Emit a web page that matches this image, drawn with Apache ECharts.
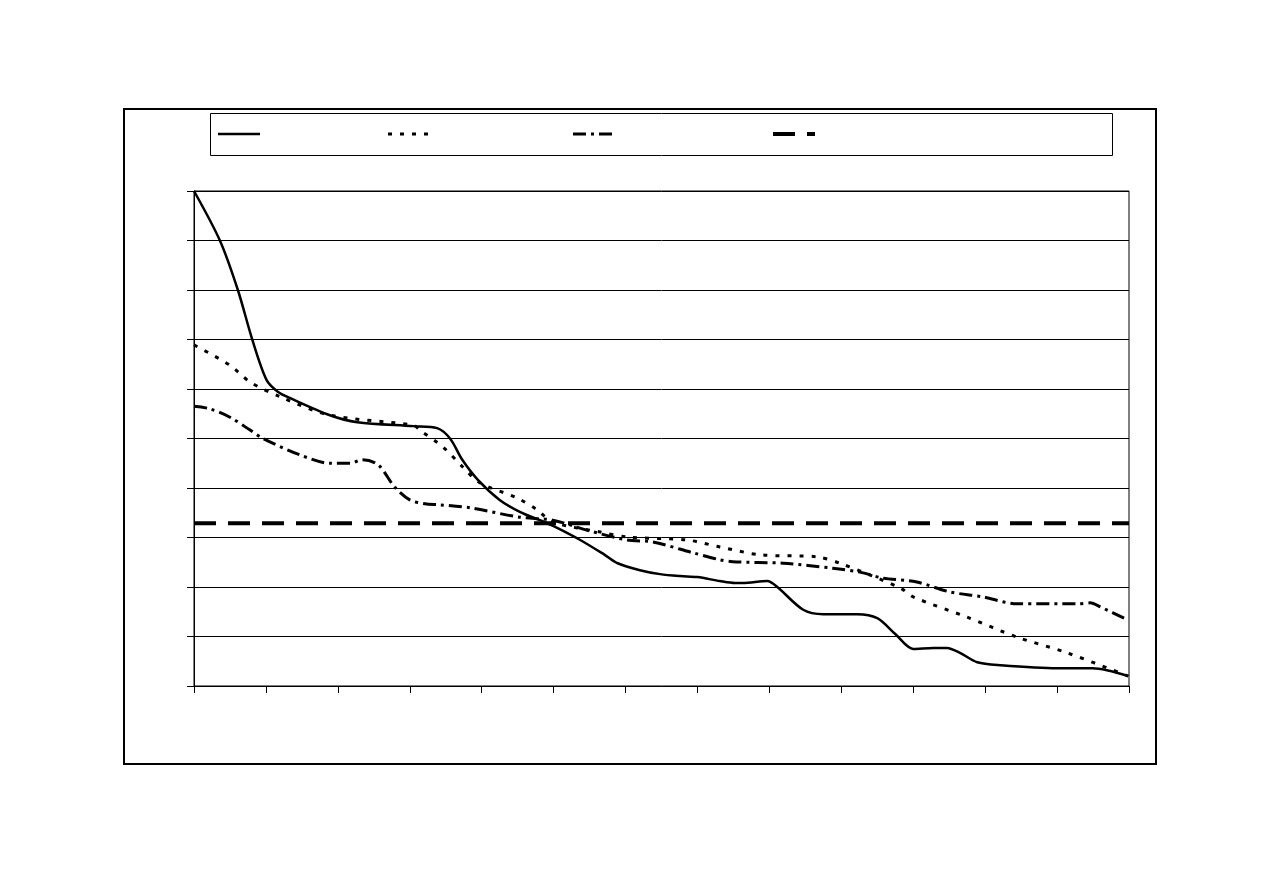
<!DOCTYPE html>
<html>
<head>
<meta charset="utf-8">
<script src="https://cdn.jsdelivr.net/npm/echarts@6/dist/echarts.min.js"></script>
<style>html,body{margin:0;padding:0;background:#fff}#c{width:1263px;height:893px}</style>
</head>
<body>
<div id="c"></div>
<script>
// x positions (0..13) and values (0..10)
const solidX = [0,0.36,0.61,0.81,1.01,1.17,1.33,1.89,2.27,3.05,3.38,3.56,3.73,3.95,4.25,4.53,4.81,5.0,5.37,5.71,5.89,6.2,6.48,6.76,7.0,7.31,7.52,7.63,7.97,8.11,8.47,8.75,9.22,9.5,9.75,10.0,10.28,10.47,10.65,10.89,11.21,12.0,12.49,12.99];
const solidY = [10,9.0,8.0,7.0,6.18,5.94,5.82,5.47,5.33,5.25,5.21,5.0,4.57,4.16,3.76,3.52,3.35,3.23,2.95,2.65,2.48,2.34,2.26,2.22,2.2,2.12,2.08,2.08,2.12,2.0,1.54,1.45,1.45,1.37,1.05,0.75,0.77,0.77,0.67,0.48,0.42,0.36,0.36,0.2];
const dottedX = [0,0.5,0.78,1.2,1.89,3.05,3.14,3.46,3.74,3.98,4.49,4.77,4.99,5.65,6.02,6.85,7.31,7.87,8.66,8.98,9.82,10.0,10.75,11.44,12.14,12.99];
const dottedY = [6.89,6.48,6.14,5.84,5.47,5.27,5.17,4.83,4.42,4.10,3.80,3.56,3.31,3.11,3.01,2.95,2.81,2.65,2.61,2.48,1.98,1.80,1.39,0.99,0.67,0.2];
const dashDotX = [0,0.22,0.5,0.78,0.96,1.47,1.89,2.17,2.34,2.56,2.79,3.0,3.21,3.42,3.84,4.53,4.99,5.46,6.02,6.38,6.94,7.31,7.49,8.19,8.88,9.26,9.58,10.05,10.51,10.97,11.44,12.28,12.46,12.6,12.99];
const dashDotY = [5.65,5.60,5.43,5.17,5.0,4.67,4.5,4.5,4.57,4.47,4.02,3.76,3.68,3.66,3.60,3.41,3.35,3.15,2.95,2.91,2.69,2.55,2.51,2.48,2.38,2.30,2.18,2.10,1.90,1.80,1.66,1.66,1.68,1.60,1.33];
const refLevel = 3.29;
const xRange = [0, 13];

const zip = (xs, ys) => xs.map((x, i) => [x, ys[i]]);

const chart = echarts.init(document.getElementById('c'), null, {renderer: 'canvas'});
const black = '#000';
chart.setOption({
  animation: false,
  backgroundColor: '#fff',
  grid: {left: 194, top: 191, right: 134, bottom: 207, show: true, borderColor: black, borderWidth: 1, backgroundColor: 'transparent'},
  xAxis: {
    type: 'value', min: xRange[0], max: xRange[1], interval: 1,
    axisLine: {show: true, onZero: false, lineStyle: {color: black, width: 1}},
    axisTick: {show: true, length: 7, inside: false, lineStyle: {color: black}},
    axisLabel: {show: false},
    splitLine: {show: false}
  },
  yAxis: {
    type: 'value', min: 0, max: 10, interval: 1,
    axisLine: {show: true, lineStyle: {color: black, width: 1}},
    axisTick: {show: true, length: 7, inside: false, lineStyle: {color: black}},
    axisLabel: {show: false},
    splitLine: {show: true, lineStyle: {color: black, width: 1}}
  },
  series: [
    {type: 'line', data: zip(solidX, solidY), symbol: 'none', smooth: 0.3,
     lineStyle: {color: black, width: 2.5, type: 'solid'}},
    {type: 'line', data: zip(dottedX, dottedY), symbol: 'none', smooth: 0.3,
     lineStyle: {color: black, width: 3, type: [4, 8], cap: 'butt'}},
    {type: 'line', data: zip(dashDotX, dashDotY), symbol: 'none', smooth: 0.3,
     lineStyle: {color: black, width: 3, type: [13, 5, 3, 5], cap: 'butt'}},
    {type: 'line', data: [[xRange[0], refLevel], [xRange[1], refLevel]], symbol: 'none',
     lineStyle: {color: black, width: 4, type: [22, 12], cap: 'butt'}}
  ],
  graphic: [
    {type: 'rect', shape: {x: 124, y: 109, width: 1032, height: 655}, style: {fill: 'none', stroke: black, lineWidth: 2}, z: 100},
    {type: 'rect', shape: {x: 210.5, y: 113.5, width: 902, height: 42}, style: {fill: '#fff', stroke: black, lineWidth: 1}, z: 100},
    {type: 'line', shape: {x1: 218, y1: 134, x2: 260, y2: 134}, style: {stroke: black, lineWidth: 2.5}, z: 101},
    {type: 'line', shape: {x1: 388, y1: 134, x2: 430, y2: 134}, style: {stroke: black, lineWidth: 3, lineDash: [4, 8]}, z: 101},
    {type: 'line', shape: {x1: 573, y1: 134, x2: 615, y2: 134}, style: {stroke: black, lineWidth: 3, lineDash: [13, 5, 3, 5]}, z: 101},
    {type: 'line', shape: {x1: 773, y1: 134, x2: 815, y2: 134}, style: {stroke: black, lineWidth: 4, lineDash: [22, 12]}, z: 101}
  ]
});
</script>
</body>
</html>
